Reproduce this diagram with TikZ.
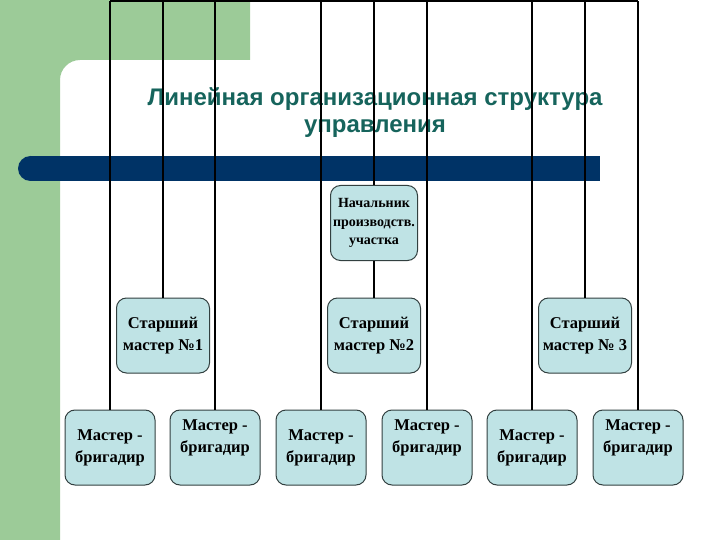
\documentclass[tikz,border=0pt]{standalone}
\usepackage{fontspec}
\setmainfont{Liberation Serif}
\newfontfamily\titlefont{Liberation Sans}
\usetikzlibrary{positioning,calc}

\definecolor{slidegreen}{RGB}{156,203,152}
\definecolor{barblue}{RGB}{0,51,102}
\definecolor{titleteal}{RGB}{22,100,92}
\definecolor{boxfill}{RGB}{191,227,229}
\definecolor{boxline}{RGB}{50,64,64}

\tikzset{
	unit/.style={draw=boxline,fill=boxfill,line width=1pt,rounded corners=10pt,
		align=center,font=\bfseries\fontsize{16.5}{22}\selectfont,inner sep=2pt},
	master/.style={unit,minimum width=90pt,minimum height=75pt},
	mtop/.style={text depth=22pt},
	senior/.style={unit,minimum width=93pt,minimum height=75pt},
	chief/.style={unit,minimum width=87pt,minimum height=75pt,
		font=\bfseries\fontsize{14}{18.5}\selectfont},
	link/.style={line width=1.8pt}
}

\begin{document}
\begin{tikzpicture}[x=1pt,y=-1pt]
	\useasboundingbox (0,0) rectangle (720,540);
	
	% Background
	\fill[slidegreen] (0,0) -- (250,0) -- (250,60) -- (80,60)
		.. controls (69,60) and (60,69) .. (60,80) -- (60,540) -- (0,540) -- cycle;
	
	% Title
	\node[font=\titlefont\bfseries\fontsize{24}{27}\selectfont,text=titleteal,align=center]
		(title) at (375,113) {Линейная организационная структура\\управления};
	
	% Bar
	\fill[barblue] (30.5,156) rectangle (600,181);
	\fill[barblue] (30.5,168.5) circle (12.5);
	
	% Chief
	\node[chief] (nach) at (374,223) {Начальник\\производств.\\участка};
	
	% Senior masters
	\node[senior] (st1) at (163,335.5) {Старший\\мастер №1};
	\node[senior] (st2) at (374,335.5) {Старший\\мастер №2};
	\node[senior] (st3) at (585,335.5) {Старший\\мастер № 3};
	
	% Masters
	\node[master] (m1) at (110,447.5) {Мастер -\\бригадир};
	\node[master,mtop] (m2) at (215,447.5) {Мастер -\\бригадир};
	\node[master] (m3) at (321,447.5) {Мастер -\\бригадир};
	\node[master,mtop] (m4) at (427,447.5) {Мастер -\\бригадир};
	\node[master] (m5) at (532,447.5) {Мастер -\\бригадир};
	\node[master,mtop] (m6) at (638,447.5) {Мастер -\\бригадир};
	
	% Connections
	\coordinate (top) at (0,1);
	\draw[link] (m1.north |- top) -- (m6.north |- top);
	\foreach \i in {1,...,6}
	{
		\draw[link] (m\i.north) -- (m\i.north |- top);
	}
	\foreach \i in {st1,st3,nach}
	{
		\draw[link] (\i.north) -- (\i.north |- top);
	}
	\draw[link] (nach) -- (st2);
\end{tikzpicture}
\end{document}
